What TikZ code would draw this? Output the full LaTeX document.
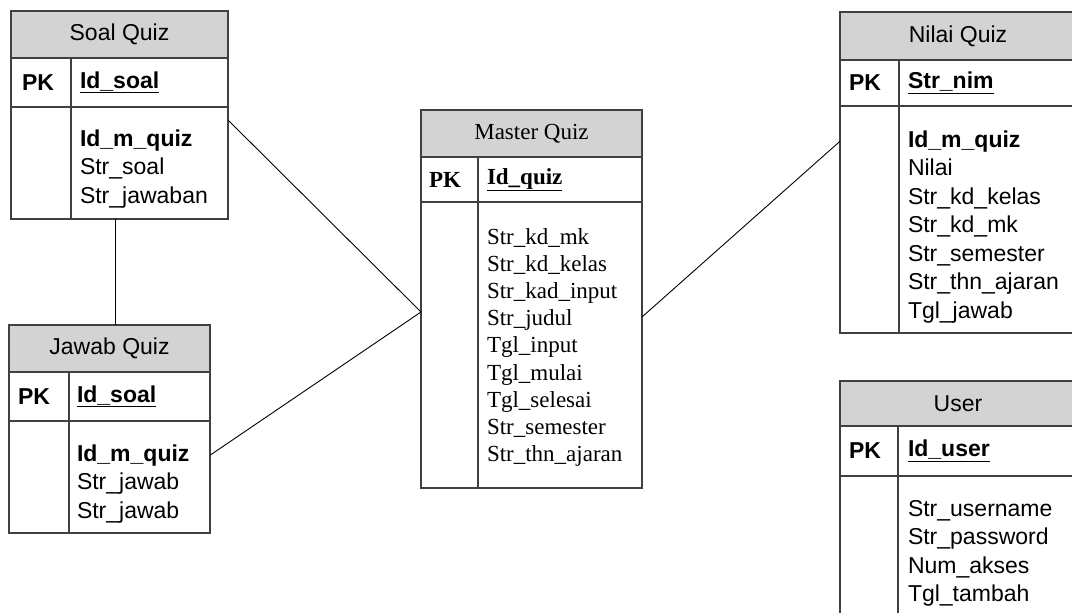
\documentclass[tikz,border=0pt]{standalone}
\usepackage{fontspec}
\setmainfont{Liberation Sans}
\newfontfamily\timesfont{Liberation Serif}
\usetikzlibrary{positioning}

\definecolor{headgray}{RGB}{211,211,211}
\definecolor{rulegray}{RGB}{64,64,64}

\begin{document}
\begin{tikzpicture}[x=1pt, y=-1pt,
        every node/.style={font=\fontsize{23}{28}\selectfont, inner sep=0pt, outer sep=0pt},
        cell/.style={rectangle, draw=rulegray, line width=1.5pt, anchor=north west},
        head/.style={cell, fill=headgray},
        divider/.style={draw=rulegray, line width=1.5pt},
        pk/.style={anchor=west, font=\fontsize{23}{28}\selectfont\bfseries},
        field/.style={anchor=north west, text height=20pt, text depth=8.5pt},
        sfield/.style={anchor=north west, text height=19pt, text depth=8.2pt, font=\fontsize{23}{27}\selectfont\timesfont},
        link/.style={draw=black, line width=0.9pt}
        ]
    \useasboundingbox (0,0) rectangle (1072,613);
    \clip (0,0) rectangle (1072,613);

    % Soal Quiz
    \node[head, minimum width=217pt, minimum height=47pt] (soalhead) at (11,11) {Soal Quiz};
    \node[cell, minimum width=217pt, minimum height=49pt] (soalpk) at (soalhead.south west) {};
    \node[cell, minimum width=217pt, minimum height=112pt] (soalbody) at (soalpk.south west) {};
    \draw[divider] ([xshift=60pt]soalpk.north west) -- ([xshift=60pt]soalbody.south west);
    \node[pk] (soalpkl) at ([xshift=11pt]soalpk.west) {PK};
    \node[pk] (soalkey) at ([xshift=69pt]soalpk.west) {\underline{Id\_soal}};
    \node[field, font=\fontsize{23}{28}\selectfont\bfseries] (soalf1) at ([xshift=69pt,yshift=-19pt]soalbody.north west) {Id\_m\_quiz};
    \node[field] (soalf2) at (soalf1.south west) {Str\_soal};
    \node[field] (soalf3) at (soalf2.south west) {Str\_jawaban};

    % Jawab Quiz
    \node[head, minimum width=201pt, minimum height=47pt] (jawabhead) at (9,325) {Jawab Quiz};
    \node[cell, minimum width=201pt, minimum height=49pt] (jawabpk) at (jawabhead.south west) {};
    \node[cell, minimum width=201pt, minimum height=112pt] (jawabbody) at (jawabpk.south west) {};
    \draw[divider] ([xshift=60pt]jawabpk.north west) -- ([xshift=60pt]jawabbody.south west);
    \node[pk] (jawabpkl) at ([xshift=9pt]jawabpk.west) {PK};
    \node[pk] (jawabkey) at ([xshift=68pt]jawabpk.west) {\underline{Id\_soal}};
    \node[field, font=\fontsize{23}{28}\selectfont\bfseries] (jawabf1) at ([xshift=68pt,yshift=-20pt]jawabbody.north west) {Id\_m\_quiz};
    \node[field] (jawabf2) at (jawabf1.south west) {Str\_jawab};
    \node[field] (jawabf3) at (jawabf2.south west) {Str\_jawab};

    % Master Quiz
    \node[head, minimum width=221pt, minimum height=47pt, font=\fontsize{23}{28}\selectfont\timesfont] (masterhead) at (421,110) {Master Quiz};
    \node[cell, minimum width=221pt, minimum height=45pt] (masterpk) at (masterhead.south west) {};
    \node[cell, minimum width=221pt, minimum height=286pt] (masterbody) at (masterpk.south west) {};
    \draw[divider] ([xshift=57pt]masterpk.north west) -- ([xshift=57pt]masterbody.south west);
    \node[pk, font=\fontsize{23}{28}\selectfont\timesfont\bfseries] (masterpkl) at ([xshift=8pt]masterpk.west) {PK};
    \node[pk, font=\fontsize{23}{28}\selectfont\timesfont\bfseries] (masterkey) at ([xshift=66pt]masterpk.west) {\underline{Id\_quiz}};
    \node[sfield] (masterf1) at ([xshift=66pt,yshift=-23pt]masterbody.north west) {Str\_kd\_mk};
    \node[sfield] (masterf2) at (masterf1.south west) {Str\_kd\_kelas};
    \node[sfield] (masterf3) at (masterf2.south west) {Str\_kad\_input};
    \node[sfield] (masterf4) at (masterf3.south west) {Str\_judul};
    \node[sfield] (masterf5) at (masterf4.south west) {Tgl\_input};
    \node[sfield] (masterf6) at (masterf5.south west) {Tgl\_mulai};
    \node[sfield] (masterf7) at (masterf6.south west) {Tgl\_selesai};
    \node[sfield] (masterf8) at (masterf7.south west) {Str\_semester};
    \node[sfield] (masterf9) at (masterf8.south west) {Str\_thn\_ajaran};

    % Nilai Quiz
    \node[head, minimum width=236pt, minimum height=48pt] (nilaihead) at (840,12) {Nilai Quiz};
    \node[cell, minimum width=236pt, minimum height=46pt] (nilaipk) at (nilaihead.south west) {};
    \node[cell, minimum width=236pt, minimum height=227pt] (nilaibody) at (nilaipk.south west) {};
    \draw[divider] ([xshift=59pt]nilaipk.north west) -- ([xshift=59pt]nilaibody.south west);
    \node[pk] (nilaipkl) at ([xshift=9pt]nilaipk.west) {PK};
    \node[pk] (nilaikey) at ([xshift=68pt]nilaipk.west) {\underline{Str\_nim}};
    \node[field, font=\fontsize{23}{28}\selectfont\bfseries] (nilaif1) at ([xshift=68pt,yshift=-21pt]nilaibody.north west) {Id\_m\_quiz};
    \node[field] (nilaif2) at (nilaif1.south west) {Nilai};
    \node[field] (nilaif3) at (nilaif2.south west) {Str\_kd\_kelas};
    \node[field] (nilaif4) at (nilaif3.south west) {Str\_kd\_mk};
    \node[field] (nilaif5) at (nilaif4.south west) {Str\_semester};
    \node[field] (nilaif6) at (nilaif5.south west) {Str\_thn\_ajaran};
    \node[field] (nilaif7) at (nilaif6.south west) {Tgl\_jawab};

    % User
    \node[head, minimum width=236pt, minimum height=45pt] (userhead) at (840,381) {User};
    \node[cell, minimum width=236pt, minimum height=50pt] (userpk) at (userhead.south west) {};
    \node[cell, minimum width=236pt, minimum height=160pt] (userbody) at (userpk.south west) {};
    \draw[divider] ([xshift=58pt]userpk.north west) -- ([xshift=58pt]userbody.south west);
    \node[pk] (userpkl) at ([xshift=9pt]userpk.west) {PK};
    \node[pk] (userkey) at ([xshift=68pt]userpk.west) {\underline{Id\_user}};
    \node[field] (userf1) at ([xshift=68pt,yshift=-20pt]userbody.north west) {Str\_username};
    \node[field] (userf2) at (userf1.south west) {Str\_password};
    \node[field] (userf3) at (userf2.south west) {Num\_akses};
    \node[field] (userf4) at (userf3.south west) {Tgl\_tambah};

    % relations
    \draw[link] ([xshift=-4.5pt]soalbody.south) coordinate (soaldown) -- (soaldown |- jawabhead.north);
    \draw[link] ([yshift=-13pt]soalbody.north east) -- ([yshift=33pt]masterbody.west);
    \draw[link] (jawabbody.east |- jawabf1.west) -- ([yshift=33pt]masterbody.west);
    \draw[link] ([yshift=28pt]masterbody.east) -- (nilaibody.west |- nilaif1.west);

    \end{tikzpicture}
\end{document}
